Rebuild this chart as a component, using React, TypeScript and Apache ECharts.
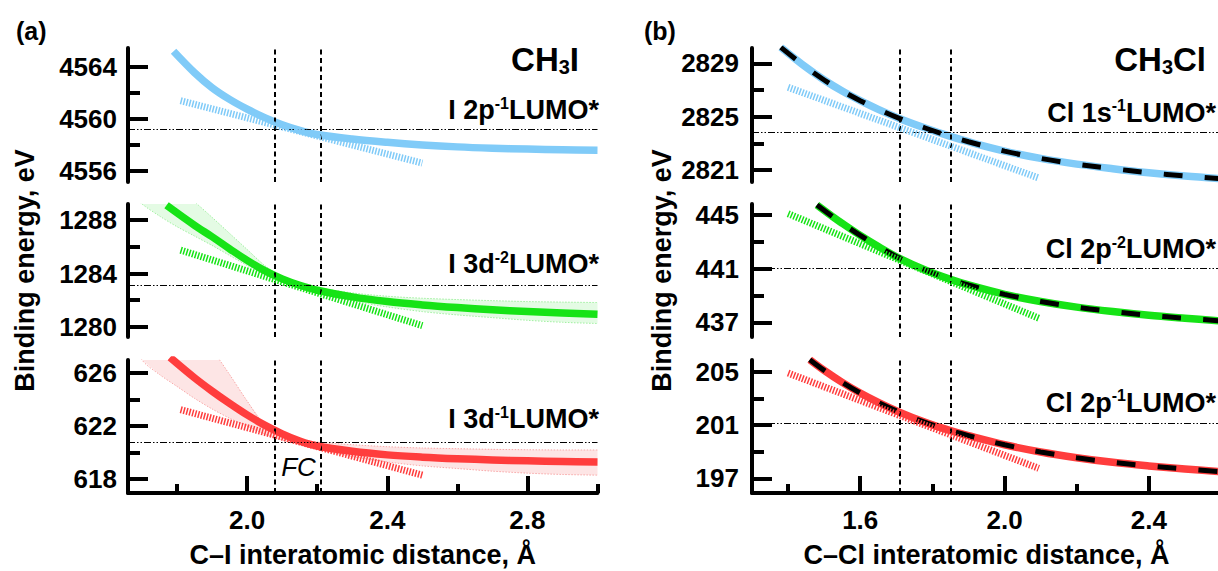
import React, { useEffect, useRef } from "react";
import * as echarts from "echarts";

// ---------------- data ----------------
const X_RANGE_A = [1.66, 3.0];
const X_RANGE_B = [1.3, 2.6];
const X_MAJOR_A = [2.0, 2.4, 2.8];
const X_MINOR_A = [1.8, 2.2, 2.6, 3.0];
const X_MAJOR_B = [1.6, 2.0, 2.4];
const X_MINOR_B = [1.4, 1.8, 2.2, 2.6];

const Y_MIN = [4555.15, 1279.25, 616.95, 2820.1, 435.9, 195.9];
const Y_MAX = [4565.45, 1289.2, 627.0, 2830.15, 445.82, 205.88];
const Y_MAJOR = [
  [4556, 4560, 4564],
  [1280, 1284, 1288],
  [618, 622, 626],
  [2821, 2825, 2829],
  [437, 441, 445],
  [197, 201, 205],
];
const Y_MINOR = [
  [4558, 4562],
  [1282, 1286],
  [620, 624],
  [2823, 2827],
  [439, 443],
  [199, 203],
];

// Franck-Condon region limits and reference energies
const FC_A = [2.08, 2.21];
const FC_B = [1.71, 1.85];
const REF_E = [4559.2, 1283.1, 620.8, 2823.8, 441.0, 201.1];

// CH3I: I 2p^-1 LUMO*
const X_I2P = [1.79, 1.85, 1.9, 1.95, 2.0, 2.05, 2.1, 2.15, 2.2, 2.3, 2.4, 2.5, 2.6, 2.7, 2.8, 2.9, 3.0];
const E_I2P = [4565.2, 4563.55, 4562.4, 4561.5, 4560.75, 4560.1, 4559.55, 4559.12, 4558.8, 4558.45, 4558.2, 4558.0, 4557.85, 4557.75, 4557.68, 4557.63, 4557.6];
// CH3I: I 3d^-2 LUMO*
const X_I3D2 = [1.77, 1.85, 1.9, 1.95, 2.0, 2.05, 2.1, 2.15, 2.2, 2.3, 2.4, 2.5, 2.6, 2.7, 2.8, 2.9, 3.0];
const E_I3D2 = [1289.1, 1287.6, 1286.75, 1285.85, 1284.98, 1284.22, 1283.6, 1283.12, 1282.75, 1282.25, 1281.9, 1281.65, 1281.45, 1281.28, 1281.15, 1281.05, 1280.95];
// CH3I: I 3d^-1 LUMO*
const X_I3D1 = [1.78, 1.85, 1.9, 1.95, 2.0, 2.05, 2.1, 2.15, 2.2, 2.3, 2.4, 2.5, 2.6, 2.7, 2.8, 2.9, 3.0];
const E_I3D1 = [627.2, 625.65, 624.65, 623.72, 622.85, 622.08, 621.42, 620.88, 620.5, 620.1, 619.83, 619.66, 619.54, 619.45, 619.38, 619.33, 619.3];

// uncertainty bands (CH3I)
const BAND_X_A = [1.65, 1.7, 1.75, 1.8, 1.85, 1.9, 1.95, 2.0, 2.05, 2.1, 2.15, 2.2, 2.3, 2.4, 2.5, 2.6, 2.7, 2.8, 2.9, 3.0];
const BAND_I3D2_UP = [1294, 1292.5, 1291.3, 1290.3, 1289.35, 1288.2, 1287.0, 1285.8, 1284.6, 1283.75, 1283.25, 1282.95, 1282.55, 1282.3, 1282.15, 1282.05, 1281.97, 1281.9, 1281.86, 1281.83];
const BAND_I3D2_LO = [1290.4, 1289.2, 1288.3, 1287.5, 1286.8, 1286.1, 1285.35, 1284.6, 1283.95, 1283.4, 1282.95, 1282.55, 1281.95, 1281.5, 1281.15, 1280.9, 1280.7, 1280.5, 1280.35, 1280.26];
const BAND_I3D1_UP = [635.5, 634, 632.5, 631, 629.5, 627.8, 625.9, 623.9, 622.1, 621.4, 621.0, 620.8, 620.6, 620.45, 620.35, 620.3, 620.25, 620.22, 620.2, 620.2];
const BAND_I3D1_LO = [629.5, 627.0, 625.9, 625.0, 624.1, 623.3, 622.6, 622.0, 621.4, 620.95, 620.6, 620.25, 619.7, 619.3, 619.0, 618.8, 618.6, 618.45, 618.35, 618.3];

// CH3Cl: Cl 1s^-1 LUMO*
const X_CL1S = [1.38, 1.45, 1.5, 1.55, 1.6, 1.65, 1.71, 1.78, 1.85, 1.9, 2.0, 2.1, 2.2, 2.3, 2.4, 2.5, 2.6];
const E_CL1S = [2830.2, 2828.7, 2827.75, 2826.92, 2826.2, 2825.55, 2824.85, 2824.15, 2823.52, 2823.12, 2822.42, 2821.87, 2821.44, 2821.1, 2820.8, 2820.55, 2820.35];
// CH3Cl: Cl 2p^-2 LUMO*
const X_CL2P2 = [1.48, 1.52, 1.55, 1.6, 1.65, 1.71, 1.78, 1.85, 1.9, 2.0, 2.1, 2.2, 2.3, 2.4, 2.5, 2.6];
const E_CL2P2 = [445.75, 444.95, 444.38, 443.48, 442.65, 441.75, 440.9, 440.2, 439.78, 439.08, 438.55, 438.13, 437.8, 437.52, 437.3, 437.1];
// CH3Cl: Cl 2p^-1 LUMO*
const X_CL2P1 = [1.46, 1.5, 1.55, 1.6, 1.65, 1.71, 1.78, 1.85, 1.9, 2.0, 2.1, 2.2, 2.3, 2.4, 2.5, 2.6];
const E_CL2P1 = [205.9, 205.1, 204.2, 203.4, 202.7, 201.95, 201.2, 200.58, 200.2, 199.52, 198.98, 198.55, 198.2, 197.93, 197.7, 197.5];

// linear (tangent) approximations
const TAN_X_A = [1.81, 2.5];
const TAN_X_B = [1.4, 2.095];
const TAN_I2P = [4561.4, 4556.6];
const TAN_I3D2 = [1285.75, 1280.1];
const TAN_I3D1 = [623.25, 618.3];
const TAN_CL1S = [2827.2, 2820.4];
const TAN_CL2P2 = [445.1, 437.3];
const TAN_CL2P1 = [204.9, 197.75];

const LEVEL_MAIN = ["I 2p", "I 3d", "I 3d", "Cl 1s", "Cl 2p", "Cl 2p"];
const LEVEL_SUP = ["-1", "-2", "-1", "-1", "-2", "-1"];

// ---------------- styles / layout ----------------
const FONT = "Liberation Sans";
const BLUE = "#80cbf8";
const GREEN = "#16e316";
const RED = "#ff3d3d";

const GRIDS = [
  { left: 128, top: 48, width: 469.5, height: 134 },
  { left: 128, top: 204, width: 469.5, height: 133 },
  { left: 128, top: 360, width: 469.5, height: 133 },
  { left: 752, top: 48, width: 469, height: 134 },
  { left: 752, top: 204, width: 469, height: 133 },
  { left: 752, top: 360, width: 469, height: 133 },
];
const LABEL_Y = [110, 264, 419, 112.5, 249, 402.5];
const LABEL_RIGHT = [599, 599, 599, 1216, 1216, 1216];

const pairs = (xs: number[], ys: number[]) => xs.map((x, i) => [x, ys[i]]);

const SUBPLOTS = [
  { x: X_I2P, e: E_I2P, tx: TAN_X_A, te: TAN_I2P, color: BLUE, fc: FC_A },
  { x: X_I3D2, e: E_I3D2, tx: TAN_X_A, te: TAN_I3D2, color: GREEN, fc: FC_A, band: { up: BAND_I3D2_UP, lo: BAND_I3D2_LO, fill: "#e4fbe4", edge: "#9ff09f" } },
  { x: X_I3D1, e: E_I3D1, tx: TAN_X_A, te: TAN_I3D1, color: RED, fc: FC_A, band: { up: BAND_I3D1_UP, lo: BAND_I3D1_LO, fill: "#fde5e5", edge: "#f8a8a8" } },
  { x: X_CL1S, e: E_CL1S, tx: TAN_X_B, te: TAN_CL1S, color: BLUE, fc: FC_B, dashed: true },
  { x: X_CL2P2, e: E_CL2P2, tx: TAN_X_B, te: TAN_CL2P2, color: GREEN, fc: FC_B, dashed: true },
  { x: X_CL2P1, e: E_CL2P1, tx: TAN_X_B, te: TAN_CL2P1, color: RED, fc: FC_B, dashed: true },
] as any[];

function buildOption() {
  const xAxis: any[] = [];
  const yAxis: any[] = [];
  const series: any[] = [];

  for (let g = 0; g < 6; g++) {
    const isA = g < 3;
    const range = isA ? X_RANGE_A : X_RANGE_B;
    const bottom = g === 2 || g === 5;
    if (bottom) {
      xAxis.push({
        type: "value",
        gridIndex: g,
        min: range[0],
        max: range[1],
        position: "bottom",
        name: isA ? "C–I interatomic distance, Å" : "C–Cl interatomic distance, Å",
        nameLocation: "middle",
        nameGap: 49,
        nameTextStyle: { fontFamily: FONT, fontSize: 27, fontWeight: "bold", color: "#000", lineHeight: 26 },
        axisLine: { show: true, onZero: false, lineStyle: { color: "#000", width: 4 } },
        axisTick: { show: true, inside: true, length: 17, customValues: isA ? X_MAJOR_A : X_MAJOR_B, lineStyle: { color: "#000", width: 4 } },
        axisLabel: {
          show: true,
          customValues: isA ? X_MAJOR_A : X_MAJOR_B,
          formatter: (v: number) => v.toFixed(1),
          margin: 14,
          color: "#000",
          fontFamily: FONT,
          fontSize: 26,
          fontWeight: "bold",
        },
        splitLine: { show: false },
      });
    } else {
      xAxis.push({ type: "value", gridIndex: g, min: range[0], max: range[1], show: false });
    }

    const middle = g === 1 || g === 4;
    yAxis.push({
      type: "value",
      gridIndex: g,
      min: Y_MIN[g],
      max: Y_MAX[g],
      position: "left",
      name: middle ? "Binding energy, eV" : "",
      nameLocation: "middle",
      nameRotate: 90,
      nameGap: isA ? 90 : 77,
      nameTextStyle: { fontFamily: FONT, fontSize: 27, fontWeight: "bold", color: "#000" },
      axisLine: { show: true, onZero: false, lineStyle: { color: "#000", width: 4 } },
      axisTick: { show: true, inside: true, length: 20, customValues: Y_MAJOR[g], lineStyle: { color: "#000", width: 4 } },
      axisLabel: {
        show: true,
        customValues: Y_MAJOR[g],
        formatter: (v: number) => String(Math.round(v)),
        margin: isA ? 11 : 13,
        color: "#000",
        fontFamily: FONT,
        fontSize: 26,
        fontWeight: "bold",
      },
      splitLine: { show: false },
    });
  }
  // minor tick overlays
  for (let g = 0; g < 6; g++) {
    yAxis.push({
      type: "value",
      gridIndex: g,
      min: Y_MIN[g],
      max: Y_MAX[g],
      position: "left",
      axisLine: { show: false },
      axisLabel: { show: false },
      axisTick: { show: true, inside: true, length: 12, customValues: Y_MINOR[g], lineStyle: { color: "#000", width: 4 } },
      splitLine: { show: false },
    });
  }
  [2, 5].forEach((g) => {
    const isA = g < 3;
    const range = isA ? X_RANGE_A : X_RANGE_B;
    xAxis.push({
      type: "value",
      gridIndex: g,
      min: range[0],
      max: range[1],
      position: "bottom",
      axisLine: { show: false },
      axisLabel: { show: false },
      axisTick: { show: true, inside: true, length: 9, customValues: isA ? X_MINOR_A : X_MINOR_B, lineStyle: { color: "#000", width: 4 } },
      splitLine: { show: false },
    });
  });

  SUBPLOTS.forEach((s, g) => {
    if (s.band) {
      const bx = BAND_X_A;
      const up = s.band.up;
      const lo = s.band.lo;
      series.push({
        type: "custom",
        xAxisIndex: g,
        yAxisIndex: g,
        clip: true,
        silent: true,
        z: 1,
        data: [[bx[0], up[0]]],
        renderItem: (_p: any, api: any) => {
          const pts: number[][] = [];
          for (let i = 0; i < bx.length; i++) pts.push(api.coord([bx[i], up[i]]));
          for (let i = bx.length - 1; i >= 0; i--) pts.push(api.coord([bx[i], lo[i]]));
          return { type: "polygon", shape: { points: pts }, style: { fill: s.band.fill } };
        },
      });
      [up, lo].forEach((arr) => {
        series.push({
          type: "line",
          xAxisIndex: g,
          yAxisIndex: g,
          data: pairs(bx, arr),
          symbol: "none",
          smooth: 0.3,
          silent: true,
          z: 2,
          lineStyle: { color: s.band.edge, width: 1, type: [1.5, 1.5] },
        });
      });
    }
    series.push({
      type: "line",
      xAxisIndex: g,
      yAxisIndex: g,
      data: pairs(s.x, s.e),
      symbol: "none",
      smooth: 0.35,
      silent: true,
      z: 3,
      lineStyle: { color: s.color, width: 7.5, cap: "butt", join: "round" },
    });
    if (s.dashed) {
      series.push({
        type: "line",
        xAxisIndex: g,
        yAxisIndex: g,
        data: pairs(s.x, s.e),
        symbol: "none",
        smooth: 0.35,
        silent: true,
        z: 4,
        lineStyle: { color: "#000", width: 5, type: [19, 22], cap: "butt" },
      });
    }
    const vStyle = { type: [5, 3.5], width: 2, color: "#000" };
    series.push({
      type: "line",
      xAxisIndex: g,
      yAxisIndex: g,
      data: pairs(s.tx, s.te),
      symbol: "none",
      silent: true,
      z: 5,
      lineStyle: { color: s.color, width: 7, type: [1.5, 1.5], cap: "butt" },
      markLine: {
        silent: true,
        symbol: ["none", "none"],
        label: { show: false },
        animation: false,
        data: [
          { xAxis: s.fc[0], lineStyle: vStyle },
          { xAxis: s.fc[1], lineStyle: vStyle },
          { yAxis: REF_E[g], lineStyle: { type: [7, 2, 1.5, 2, 1.5, 2], width: 1, color: "#000" } },
        ],
      },
    });
  });

  const main = { fontSize: 27, fontWeight: "bold", fontFamily: FONT, fill: "#000", lineHeight: 30, verticalAlign: "middle" };
  const sup = { fontSize: 16, fontWeight: "bold", fontFamily: FONT, fill: "#000", lineHeight: 11, verticalAlign: "top" };
  const big = { fontSize: 33, fontWeight: "bold", fontFamily: FONT, fill: "#000", lineHeight: 36, verticalAlign: "middle" };
  const sub = { fontSize: 20, fontWeight: "bold", fontFamily: FONT, fill: "#000", lineHeight: 13, verticalAlign: "bottom" };

  const graphic: any[] = [];
  LEVEL_MAIN.forEach((m, g) => {
    graphic.push({
      type: "text",
      silent: true,
      x: LABEL_RIGHT[g],
      y: LABEL_Y[g],
      style: {
        text: `{m|${m}}{p|${LEVEL_SUP[g]}}{m|LUMO*}`,
        rich: { m: main, p: sup },
        align: "right",
        verticalAlign: "middle",
      },
    });
  });
  graphic.push({
    type: "text", silent: true, x: 579, y: 59,
    style: { text: "{c|CH}{s|3}{c|I}", rich: { c: big, s: sub }, align: "right", verticalAlign: "middle" },
  });
  graphic.push({
    type: "text", silent: true, x: 1206, y: 59,
    style: { text: "{c|CH}{s|3}{c|Cl}", rich: { c: big, s: sub }, align: "right", verticalAlign: "middle" },
  });
  graphic.push({
    type: "text", silent: true, x: 16, y: 31,
    style: { text: "(a)", fontFamily: FONT, fontSize: 25, fontWeight: "bold", fill: "#000", align: "left", verticalAlign: "middle" },
  });
  graphic.push({
    type: "text", silent: true, x: 644, y: 31,
    style: { text: "(b)", fontFamily: FONT, fontSize: 25, fontWeight: "bold", fill: "#000", align: "left", verticalAlign: "middle" },
  });
  graphic.push({
    type: "text", silent: true, x: 298.5, y: 467,
    style: { text: "FC", fontFamily: FONT, fontSize: 26, fontStyle: "italic", fill: "#000", align: "center", verticalAlign: "middle" },
  });

  return {
    animation: false,
    backgroundColor: "#fff",
    textStyle: { fontFamily: FONT },
    grid: GRIDS.map((gr) => ({ ...gr, containLabel: false, outerBoundsMode: "none" })),
    xAxis,
    yAxis,
    series,
    graphic,
  };
}

export default function App() {
  const ref = useRef<HTMLDivElement>(null);
  useEffect(() => {
    if (!ref.current) return;
    const chart = echarts.init(ref.current, undefined, { renderer: "svg" });
    chart.setOption(buildOption() as any);
    return () => chart.dispose();
  }, []);
  return (
    <div style={{ position: "fixed", left: 0, top: 0, width: 1218, height: 571, overflow: "hidden", background: "#fff" }}>
      <div ref={ref} style={{ width: 1240, height: 571 }} />
    </div>
  );
}
